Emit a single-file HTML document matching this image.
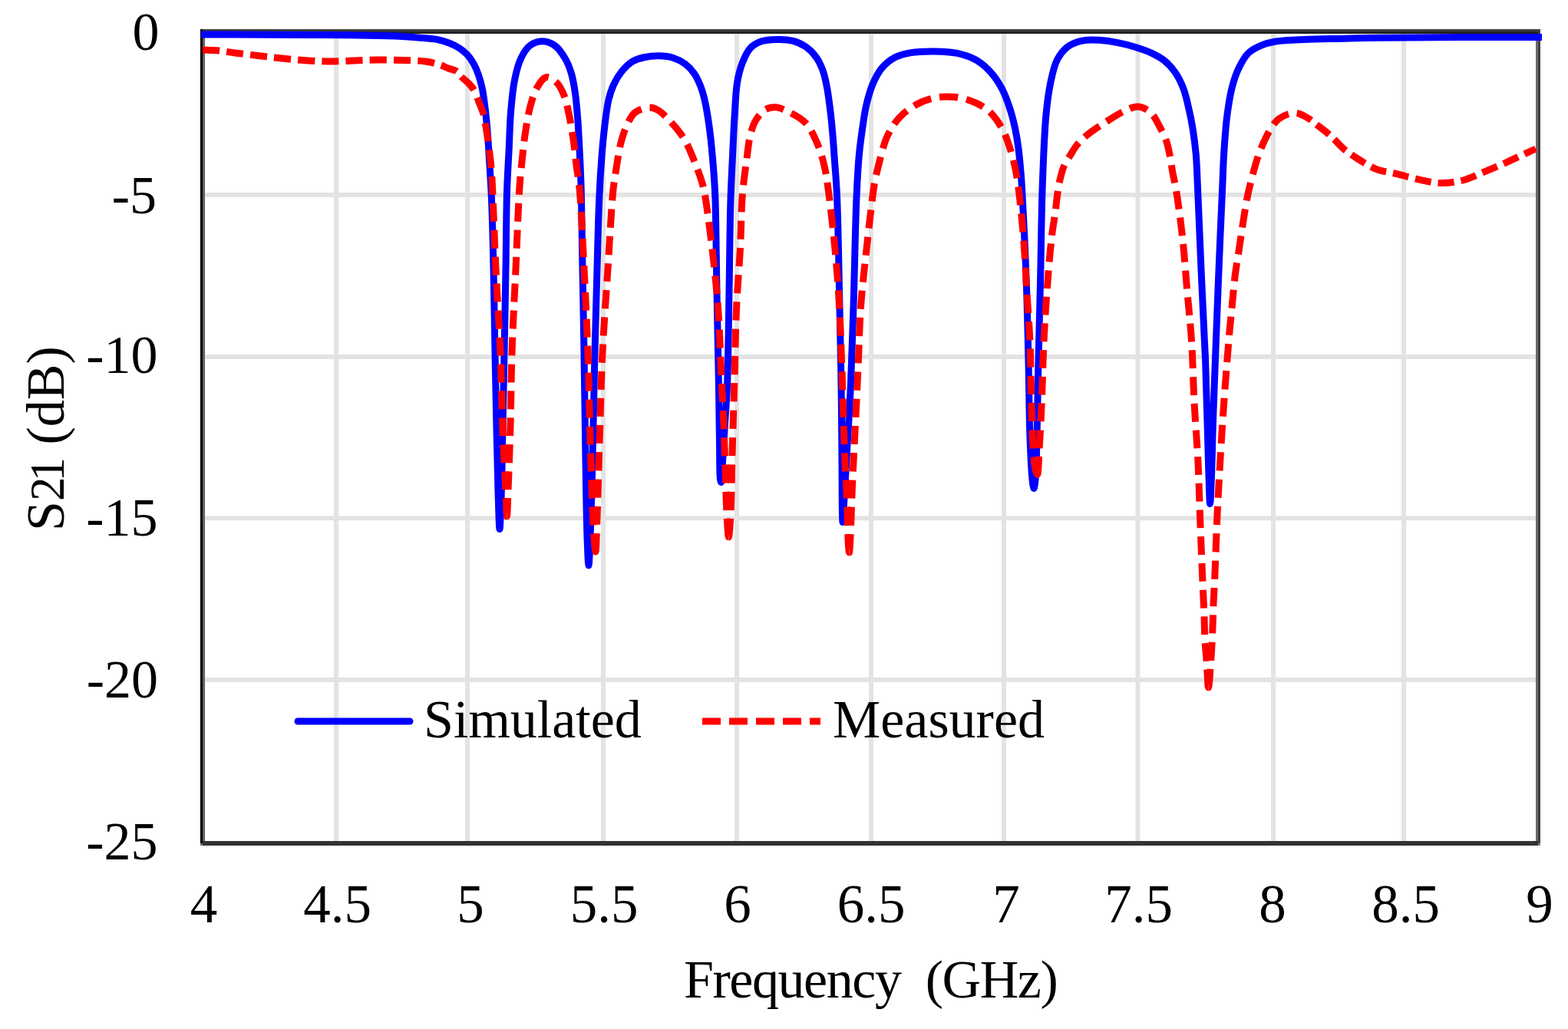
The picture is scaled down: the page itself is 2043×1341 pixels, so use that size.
<!DOCTYPE html>
<html><head><meta charset="utf-8"><title>S21</title>
<style>
html,body{margin:0;padding:0;background:#fff;}
body{width:2043px;height:1341px;overflow:hidden;}
svg{display:block;}
text{font-family:"Liberation Serif","Times New Roman",serif;fill:#000;}
</style></head><body>
<svg width="2043" height="1341" viewBox="0 0 2043 1341">
<rect x="0" y="0" width="2043" height="1341" fill="#fff"/>
<g stroke="#e3e3e3" stroke-width="6">
<line x1="438.0" y1="44" x2="438.0" y2="1096"/>
<line x1="609.0" y1="44" x2="609.0" y2="1096"/>
<line x1="786.0" y1="44" x2="786.0" y2="1096"/>
<line x1="960.0" y1="44" x2="960.0" y2="1096"/>
<line x1="1135.0" y1="44" x2="1135.0" y2="1096"/>
<line x1="1308.0" y1="44" x2="1308.0" y2="1096"/>
<line x1="1482.5" y1="44" x2="1482.5" y2="1096"/>
<line x1="1659.0" y1="44" x2="1659.0" y2="1096"/>
<line x1="1829.0" y1="44" x2="1829.0" y2="1096"/>
<line x1="267" y1="254.0" x2="2001" y2="254.0"/>
<line x1="267" y1="465.0" x2="2001" y2="465.0"/>
<line x1="267" y1="675.3" x2="2001" y2="675.3"/>
<line x1="267" y1="886.0" x2="2001" y2="886.0"/>
</g>
<g stroke-linecap="butt">
<rect x="261" y="38" width="1746" height="3" fill="#404040"/>
<rect x="261" y="41" width="1746" height="3" fill="#222"/>
<rect x="264" y="1096" width="1740" height="6" fill="#333"/>
<rect x="261" y="1099" width="3" height="3" fill="#777"/>
<rect x="2004" y="1099" width="3" height="3" fill="#888"/>
<rect x="261" y="38" width="3" height="1061" fill="#000"/>
<rect x="264" y="44" width="3" height="1052" fill="#606060"/>
<rect x="2001" y="44" width="3" height="1052" fill="#6a6a6a"/>
<rect x="2004" y="38" width="3" height="1061" fill="#404040"/>
</g>
<path d="M262.0 45.0C274.7 45.0 284.3 45.0 300.0 45.0C325.4 45.1 371.5 45.4 400.0 45.5C421.4 45.6 436.7 45.5 456.0 45.8C476.6 46.1 503.7 46.5 520.0 47.3C530.1 47.8 536.4 48.3 544.6 49.0C552.8 49.7 561.9 50.0 569.2 51.4C575.3 52.6 580.6 54.3 585.7 56.3C590.4 58.2 594.9 60.3 598.8 62.9C602.5 65.3 605.7 67.9 608.6 71.1C611.7 74.4 614.4 78.4 616.8 82.6C619.4 87.1 621.5 92.1 623.4 97.4C625.4 103.0 627.0 109.1 628.3 115.4C629.7 122.2 630.6 129.5 631.6 136.8C632.6 144.3 633.3 151.5 634.1 159.8C635.0 169.4 635.8 180.5 636.5 191.0C637.2 201.8 637.8 212.6 638.5 223.8C639.2 235.6 639.9 245.2 640.5 260.0C641.5 283.3 642.3 318.5 643.0 350.0C643.8 384.8 644.3 424.2 645.0 460.0C645.7 494.1 646.3 528.5 647.0 560.0C647.6 588.2 648.2 616.5 649.0 640.0C649.6 658.5 650.3 689.5 651.0 689.5C651.6 689.5 652.4 665.8 653.0 650.0C653.9 626.1 654.3 590.8 655.0 560.0C655.7 527.5 656.3 494.1 657.0 460.0C657.7 424.2 658.4 385.8 659.0 350.0C659.6 315.9 659.6 278.5 660.5 250.0C661.2 228.6 662.3 212.1 663.2 194.0C664.0 177.1 664.3 160.5 665.6 144.9C666.8 130.6 668.1 116.1 670.6 103.8C672.7 93.5 675.0 83.8 678.8 76.0C681.9 69.5 685.4 63.2 690.3 59.5C694.8 56.1 701.2 53.8 706.7 53.8C712.1 53.8 718.3 56.1 723.0 59.5C728.2 63.2 732.6 70.0 736.2 76.0C739.8 82.0 742.3 88.6 744.4 95.6C746.7 103.2 748.0 111.5 749.3 120.3C750.8 130.4 751.7 141.5 752.6 153.0C753.6 165.9 754.3 179.9 755.0 194.0C755.8 208.9 756.4 221.4 757.0 240.0C757.9 268.8 758.3 313.3 759.0 350.0C759.7 386.7 760.4 421.1 761.0 460.0C761.7 503.9 762.3 557.3 763.0 600.0C763.6 636.1 764.1 674.8 765.0 700.0C765.6 715.3 766.3 737.0 767.0 737.0C767.7 737.0 768.4 715.3 769.0 700.0C770.1 674.8 771.1 636.1 772.0 600.0C773.1 557.3 773.9 503.9 775.0 460.0C775.9 421.1 777.0 384.8 778.0 350.0C778.9 318.5 779.5 286.5 780.7 260.0C781.6 239.1 782.7 221.2 784.0 204.0C785.2 189.3 786.4 175.9 788.0 163.0C789.4 151.4 790.7 139.5 793.0 130.0C794.8 122.6 796.7 116.6 799.5 110.5C802.2 104.6 805.4 99.0 809.4 94.0C813.5 88.9 818.6 83.5 824.0 80.2C829.0 77.1 834.8 75.7 840.5 74.5C846.3 73.2 852.6 72.7 858.6 72.8C864.6 72.9 870.9 73.5 876.6 75.3C882.3 77.1 888.3 80.0 893.0 83.5C897.5 86.9 901.3 91.1 904.5 95.8C907.9 100.7 910.4 106.4 912.7 112.2C915.1 118.4 916.9 125.0 918.5 131.9C920.2 139.2 921.4 147.0 922.6 154.8C923.9 162.9 924.9 171.3 925.9 179.5C926.8 187.7 927.5 195.2 928.3 204.0C929.2 214.2 930.2 226.9 930.8 236.9C931.3 245.3 931.6 249.3 932.0 260.0C932.8 284.4 933.3 340.0 934.0 380.0C934.7 420.0 935.8 464.0 936.4 500.0C936.9 529.4 937.1 557.1 937.5 580.0C937.8 597.1 937.5 618.5 938.5 625.0C938.8 626.9 939.2 628.5 939.5 628.5C940.2 628.4 940.5 617.7 941.0 610.0C941.9 597.4 943.0 577.4 944.0 560.0C945.1 540.9 946.7 523.4 947.6 500.0C948.9 466.9 949.3 420.0 950.0 380.0C950.7 340.0 951.0 292.9 952.0 260.0C952.7 237.0 953.7 220.4 954.6 201.5C955.4 183.8 956.1 166.4 957.2 150.0C958.2 135.1 958.5 119.6 960.6 107.2C962.3 97.5 964.3 89.2 967.4 81.5C970.2 74.5 973.3 67.3 977.7 62.6C981.5 58.5 986.2 55.9 991.5 54.0C997.5 51.9 1005.2 51.5 1012.0 51.4C1018.9 51.3 1026.2 51.5 1032.6 53.2C1038.7 54.8 1044.7 57.4 1049.8 60.9C1055.0 64.5 1059.8 69.4 1063.5 74.6C1067.2 79.7 1069.7 85.6 1072.0 91.7C1074.4 98.1 1075.7 104.8 1077.2 112.3C1079.0 121.1 1080.2 131.4 1081.5 141.5C1082.9 152.5 1084.0 164.4 1085.0 175.8C1086.0 187.2 1086.6 197.8 1087.5 210.0C1088.5 224.0 1089.6 235.7 1090.5 255.0C1092.1 289.6 1093.0 356.1 1094.0 400.0C1094.8 436.4 1095.5 466.7 1096.0 500.0C1096.5 533.3 1096.7 569.6 1097.0 600.0C1097.2 625.4 1097.1 657.0 1097.5 670.0C1097.6 675.0 1097.8 680.5 1098.0 680.5C1098.4 680.5 1099.2 662.3 1100.0 650.0C1101.1 631.4 1102.6 604.1 1104.0 580.0C1105.5 554.2 1107.2 528.2 1108.5 500.0C1109.9 468.5 1110.9 436.3 1112.0 400.0C1113.4 356.6 1114.4 293.6 1116.0 257.0C1117.0 234.2 1117.9 217.8 1119.4 201.5C1120.6 188.7 1122.1 178.3 1123.7 167.2C1125.3 156.6 1126.5 146.2 1128.9 136.3C1131.2 126.8 1133.8 117.2 1137.4 108.9C1140.7 101.3 1144.4 94.1 1149.4 88.3C1154.2 82.7 1160.3 77.9 1166.6 74.6C1172.9 71.4 1179.7 69.9 1187.2 68.6C1196.0 67.1 1206.5 66.8 1216.3 66.9C1226.4 67.0 1237.5 67.3 1247.2 69.4C1256.3 71.4 1265.3 74.4 1272.9 78.9C1280.1 83.2 1286.4 89.0 1291.8 95.2C1297.2 101.3 1301.6 108.3 1305.5 115.7C1309.7 123.6 1312.9 132.8 1315.8 141.5C1318.6 150.0 1320.7 158.6 1322.6 167.2C1324.4 175.7 1325.7 183.7 1326.9 192.9C1328.3 203.5 1329.5 217.6 1330.3 227.2C1330.9 234.1 1331.0 236.5 1331.5 245.0C1332.7 266.6 1335.6 322.1 1337.0 360.0C1338.4 397.1 1339.2 434.2 1340.0 470.0C1340.8 504.1 1340.9 541.6 1342.0 570.0C1342.8 591.1 1343.7 613.5 1345.0 625.0C1345.6 630.3 1346.3 636.5 1347.0 636.5C1347.8 636.5 1348.9 627.0 1349.5 620.0C1350.6 607.9 1350.5 589.5 1351.0 570.0C1351.7 542.4 1352.2 504.1 1353.0 470.0C1353.8 434.2 1354.8 397.5 1355.7 360.0C1356.6 320.9 1356.9 277.1 1358.3 240.0C1359.5 207.8 1360.6 174.4 1362.9 150.0C1364.5 133.1 1366.2 120.0 1368.9 107.2C1371.2 96.4 1373.2 86.1 1377.4 78.0C1381.0 71.1 1385.6 65.1 1391.2 60.9C1396.6 56.9 1403.3 54.6 1410.0 53.1C1417.0 51.6 1424.7 51.9 1432.3 52.3C1440.2 52.7 1448.3 54.1 1456.3 55.7C1464.3 57.3 1472.7 59.3 1480.3 61.7C1487.5 63.9 1494.5 66.3 1500.9 69.4C1507.0 72.4 1512.9 75.5 1518.0 79.7C1523.2 84.0 1527.9 89.4 1531.8 95.2C1535.9 101.3 1539.2 108.3 1542.0 115.7C1545.0 123.7 1546.9 132.9 1548.9 141.5C1550.9 150.0 1552.5 158.0 1554.0 167.2C1555.7 177.8 1557.3 189.7 1558.3 201.5C1559.4 213.9 1559.5 223.6 1560.3 240.0C1561.7 268.9 1563.6 320.9 1565.4 360.0C1567.1 397.5 1569.3 436.2 1570.6 470.0C1571.7 498.8 1572.2 524.2 1573.0 550.0C1573.7 574.1 1574.3 600.4 1575.0 620.0C1575.5 634.1 1576.0 656.5 1576.6 656.5C1577.2 656.5 1577.9 634.1 1578.5 620.0C1579.3 600.4 1579.7 574.1 1580.5 550.0C1581.3 524.2 1582.3 498.8 1583.4 470.0C1584.7 436.2 1586.2 397.5 1587.7 360.0C1589.3 320.9 1591.6 268.9 1592.9 240.0C1593.6 223.6 1593.7 215.3 1594.6 201.5C1595.6 185.6 1596.8 165.8 1598.9 150.0C1600.7 136.4 1602.7 123.3 1605.7 112.3C1608.1 103.3 1610.7 95.6 1614.3 88.3C1617.7 81.4 1621.3 74.3 1626.3 69.4C1631.1 64.7 1637.4 61.7 1643.4 59.1C1649.4 56.6 1654.9 55.2 1662.3 54.0C1672.6 52.3 1686.4 52.0 1700.0 51.4C1715.8 50.7 1734.6 50.6 1751.5 50.2C1767.9 49.8 1780.9 49.5 1800.0 49.2C1827.4 48.8 1865.9 48.7 1900.0 48.6C1935.6 48.5 1972.7 48.5 2009.0 48.4" fill="none" stroke="#0000ff" stroke-width="9" stroke-linejoin="round" stroke-linecap="butt"/>
<g fill="none" stroke="#ff0000" stroke-width="9" stroke-linejoin="round">
<path d="M264.0 65.0C271.0 65.3 278.0 65.3 285.0 66.0C292.0 66.7 298.3 68.0 306.0 69.0C315.5 70.2 327.6 71.5 338.0 72.7C347.9 73.8 356.9 75.0 367.0 76.0C377.9 77.1 389.9 78.3 401.0 79.0C411.6 79.6 421.8 80.0 432.0 80.0C441.8 80.0 451.2 79.3 461.0 79.0C471.2 78.7 481.6 78.1 492.0 78.0C502.6 77.9 513.5 78.2 524.0 78.5C534.2 78.8 545.3 78.8 554.0 80.0C560.8 80.9 566.7 82.3 572.0 84.0C576.5 85.4 580.1 87.5 584.0 89.0C587.7 90.5 592.1 91.0 595.0 93.0C597.6 94.8 598.7 97.7 601.0 100.0" stroke-dasharray="22.15 9.06"/>
<path d="M601.0 100.0C603.6 102.7 607.2 105.1 610.0 108.0C612.9 111.0 615.8 114.1 618.0 118.0C620.5 122.3 622.0 127.9 624.0 133.0C626.0 138.2 628.5 143.6 630.0 149.0C631.5 154.3 632.0 159.4 633.0 165.0C634.0 171.1 635.1 177.9 636.0 184.0C636.8 189.6 637.4 194.5 638.0 200.0C638.7 205.8 639.4 211.5 640.0 218.0C640.7 225.6 640.9 231.8 641.5 243.0C642.7 266.2 644.3 314.1 646.0 350.0C647.8 386.4 650.5 424.2 652.0 460.0C653.4 494.1 653.7 528.5 655.0 560.0C656.1 588.2 658.0 619.1 659.0 640.0C659.6 653.4 660.0 673.0 660.5 673.0" stroke-dasharray="23.98 10.99"/>
<path d="M660.5 673.0C661.0 673.0 661.5 653.6 662.0 640.0C662.9 618.1 664.2 583.3 665.0 554.0C665.9 523.4 665.9 492.6 667.0 460.0C668.2 424.8 670.3 386.4 672.0 350.0C673.7 314.1 675.2 269.2 677.0 243.0C678.1 227.8 679.1 218.8 680.4 207.0C681.6 195.4 682.7 184.2 684.5 172.8C686.3 161.3 688.1 148.7 691.0 138.3C693.5 129.3 696.0 120.3 700.0 113.7C703.2 108.3 707.3 101.5 711.6 100.6C715.6 99.8 721.0 103.6 724.7 107.0C728.9 110.9 732.0 117.2 734.6 123.5C737.6 130.7 739.2 139.2 741.1 148.0C743.3 158.1 745.3 169.9 746.9 181.0C748.6 192.3 749.6 204.4 751.0 215.4C752.3 225.6 753.8 232.1 755.0 245.0C757.3 269.2 759.2 314.6 761.0 350.0C762.9 386.2 764.6 420.7 766.0 460.0C767.6 505.2 768.5 562.7 770.0 606.0C771.2 640.8 772.6 680.6 774.0 700.0C774.6 708.8 775.4 719.0 776.0 719.0" stroke-dasharray="23.97 10.99"/>
<path d="M776.0 719.0C776.9 719.0 777.3 692.4 778.0 674.0C779.1 645.0 780.3 598.5 781.5 562.0C782.6 527.2 783.3 494.6 785.0 460.0C786.8 424.0 789.6 386.0 792.0 350.0C794.3 315.4 796.5 271.2 798.9 248.0C800.2 235.9 801.2 230.3 802.8 220.5C804.6 209.3 806.6 195.0 809.4 184.4C811.7 175.8 814.3 168.1 817.6 161.4C820.4 155.7 822.9 150.1 827.4 146.6C832.1 142.9 840.1 140.3 845.5 140.1C849.7 140.0 853.2 141.3 857.0 143.4C861.9 146.1 866.7 151.2 871.7 156.5C878.1 163.2 885.8 171.9 891.4 181.1C897.4 190.9 902.2 203.9 906.2 213.9C909.5 222.2 912.4 230.3 914.4 236.9C915.9 241.8 916.5 243.8 917.7 250.0C920.6 264.7 925.0 300.1 928.0 325.0C930.9 349.7 933.5 372.9 935.4 399.0C937.6 428.2 938.6 464.0 940.0 492.0C941.1 515.0 942.2 534.6 943.0 555.0C943.8 574.2 944.3 592.1 945.0 611.0C945.7 630.4 946.1 653.6 947.0 670.0C947.7 681.7 948.6 700.0 949.4 700.0" stroke-dasharray="24.16 11.07"/>
<path d="M949.4 700.0C950.2 700.0 951.3 682.4 952.0 670.0C953.1 650.1 953.2 619.6 954.0 592.0C954.9 560.7 956.0 524.7 957.0 492.0C957.9 460.4 958.3 428.2 959.7 399.0C960.9 372.9 963.1 349.5 964.4 325.0C965.7 300.8 965.7 273.9 967.4 253.0C968.7 236.8 970.8 223.5 972.6 210.0C974.2 197.9 975.2 185.4 977.7 175.8C979.6 168.5 981.3 162.5 984.6 157.0C987.7 151.7 992.0 146.0 996.6 143.2C1000.7 140.7 1005.6 139.6 1010.3 139.8C1015.3 140.0 1020.2 142.3 1025.8 145.0C1033.1 148.5 1043.3 153.5 1049.8 160.4C1056.6 167.6 1061.1 178.2 1065.2 187.8C1069.4 197.6 1072.2 208.2 1074.6 218.7C1077.0 229.3 1077.9 238.0 1079.7 251.0C1082.3 270.6 1085.7 300.3 1088.0 325.0C1090.3 349.6 1092.1 372.9 1093.6 399.0C1095.3 428.2 1096.1 460.1 1097.3 492.0C1098.5 525.7 1099.5 566.4 1100.7 596.0C1101.6 618.1 1102.8 634.7 1103.6 654.0C1104.4 673.3 1104.7 701.5 1105.5 712.0C1105.8 715.9 1106.2 720.0 1106.5 720.0" stroke-dasharray="24.23 11.10"/>
<path d="M1106.5 720.0C1107.0 720.0 1107.5 708.6 1108.0 700.0C1108.9 684.5 1109.4 657.7 1110.4 635.0C1111.5 610.2 1113.0 582.9 1114.3 557.0C1115.6 531.3 1116.8 506.0 1118.0 480.0C1119.2 453.3 1119.7 425.4 1121.6 399.0C1123.4 373.8 1126.3 349.6 1129.0 325.0C1131.6 300.6 1135.4 267.6 1137.5 252.0C1138.5 244.6 1138.8 241.8 1140.0 235.8C1141.5 228.2 1143.7 218.8 1146.0 210.0C1148.5 200.6 1151.1 189.4 1154.6 180.9C1157.6 173.7 1161.0 167.6 1164.9 162.0C1168.5 156.8 1172.3 152.5 1176.9 148.3C1181.9 143.8 1188.0 139.6 1194.0 136.3C1200.0 133.0 1206.4 130.3 1212.9 128.6C1219.3 126.9 1225.5 126.0 1232.6 126.0C1240.8 126.0 1250.5 126.8 1259.2 129.5C1268.5 132.4 1278.9 136.9 1286.6 143.2C1294.3 149.5 1300.6 158.7 1305.5 167.2C1310.2 175.3 1312.9 184.2 1315.8 192.9C1318.6 201.4 1320.8 210.2 1322.6 218.6C1324.3 226.5 1325.3 232.2 1326.6 242.0C1328.8 258.5 1331.6 286.2 1333.4 308.6C1335.3 331.2 1336.3 354.2 1337.7 377.0C1339.1 399.9 1341.0 422.7 1342.0 446.0C1343.0 469.9 1343.0 494.8 1343.7 518.6C1344.4 541.7 1345.0 569.8 1346.3 587.0C1347.1 597.4 1347.7 606.4 1349.0 612.0C1349.7 614.9 1350.8 618.6 1351.5 618.5" stroke-dasharray="24.19 11.09"/>
<path d="M1351.5 618.5C1353.0 618.3 1353.2 599.5 1354.0 587.0C1355.2 568.6 1356.5 541.7 1357.5 518.6C1358.5 494.8 1358.8 469.9 1360.0 446.0C1361.1 422.7 1362.6 399.9 1364.3 377.0C1366.0 354.1 1368.1 327.5 1370.3 308.6C1371.9 295.1 1374.1 283.8 1375.4 274.0C1376.3 266.7 1376.6 261.4 1377.5 255.0C1378.4 248.4 1379.4 241.4 1380.9 234.8C1382.4 228.4 1384.1 221.6 1386.5 216.0C1388.7 211.0 1391.6 207.0 1394.4 202.5C1397.3 197.8 1400.0 192.8 1403.5 188.5C1407.0 184.2 1410.4 181.0 1415.3 176.9C1422.1 171.2 1432.8 164.1 1441.4 158.6C1449.5 153.4 1457.8 147.9 1465.4 144.5C1471.6 141.8 1477.3 138.6 1483.0 139.0C1488.6 139.4 1494.7 142.6 1499.2 146.6C1504.3 151.1 1507.7 159.1 1511.2 165.5C1514.5 171.7 1517.6 178.1 1519.8 184.3C1521.8 190.1 1522.7 195.2 1524.0 201.5C1525.6 209.2 1526.8 219.4 1528.3 227.2C1529.5 233.7 1530.7 237.2 1532.0 245.0C1534.5 259.6 1538.2 287.0 1540.6 308.6C1543.1 331.0 1544.6 354.2 1546.6 377.0C1548.6 399.9 1551.1 422.0 1552.6 445.7C1554.3 471.1 1554.6 498.7 1556.0 524.6C1557.4 549.8 1559.5 574.1 1560.8 599.0C1562.1 623.9 1562.6 648.8 1563.6 674.0C1564.6 699.6 1565.7 728.8 1566.7 751.6C1567.5 769.6 1568.3 785.3 1568.9 800.0C1569.4 812.3 1569.3 823.4 1569.9 834.0C1570.4 843.3 1571.5 852.2 1572.0 860.0C1572.4 866.3 1572.6 871.2 1573.0 877.0C1573.4 883.2 1573.9 896.0 1574.5 896.0" stroke-dasharray="23.81 10.91"/>
<path d="M1574.5 896.0C1574.8 896.0 1575.2 892.6 1575.5 890.0C1576.1 885.3 1576.5 876.7 1577.0 870.0C1577.5 863.3 1578.0 857.5 1578.5 850.0C1579.1 840.4 1579.6 827.7 1580.0 817.0C1580.4 806.8 1580.6 797.4 1581.0 787.0C1581.5 775.7 1582.2 765.4 1582.8 751.6C1583.7 732.3 1584.5 704.7 1585.5 682.0C1586.5 660.2 1587.5 640.2 1588.8 618.0C1590.2 594.0 1591.7 567.9 1593.4 543.0C1595.1 518.2 1597.3 489.7 1599.0 468.7C1600.2 453.3 1601.1 441.4 1602.3 428.6C1603.4 416.7 1604.6 405.7 1605.7 394.3C1606.8 382.9 1607.7 371.4 1609.1 360.0C1610.5 348.5 1612.6 337.1 1614.3 325.7C1616.0 314.3 1617.6 302.6 1619.4 291.4C1621.1 280.6 1622.9 268.5 1624.6 259.8C1625.8 253.7 1626.7 249.8 1628.0 244.3C1629.5 237.9 1631.3 230.8 1633.2 223.8C1635.2 216.5 1637.4 208.7 1640.0 201.5C1642.5 194.4 1645.5 187.2 1648.6 180.9C1651.3 175.3 1654.1 170.0 1657.2 165.5C1659.9 161.6 1662.2 158.0 1665.7 155.2C1669.5 152.2 1675.1 149.5 1679.5 148.3C1683.1 147.3 1686.1 146.9 1689.7 147.5" stroke-dasharray="24.26 11.12"/>
<path d="M1689.7 147.5C1694.0 148.2 1699.1 150.9 1703.5 153.5C1708.2 156.2 1712.4 160.0 1717.2 163.7C1722.6 167.9 1728.7 172.5 1734.3 177.5C1740.2 182.8 1745.6 189.6 1751.5 194.6C1757.0 199.2 1762.8 202.9 1768.6 206.6C1774.3 210.3 1780.7 214.3 1785.8 216.9C1789.6 218.9 1791.8 220.1 1796.0 221.5C1802.0 223.5 1811.0 224.5 1819.0 226.4C1827.9 228.5 1837.5 231.6 1847.0 233.6C1856.5 235.6 1866.2 238.2 1876.0 238.5C1885.9 238.8 1896.3 237.4 1906.0 235.0C1915.7 232.6 1924.7 227.7 1934.0 223.9C1943.4 220.1 1952.9 216.1 1962.0 212.0C1970.9 208.0 1980.8 203.1 1988.0 199.8C1993.1 197.5 1996.7 195.9 2001.0 194.0" stroke-dasharray="21 9"/>
</g>
<g font-size="70" text-anchor="middle">
<text x="265.5" y="1201.5" font-size="71">4</text>
<text x="439.5" y="1201.5" font-size="71">4.5</text>
<text x="613.0" y="1201.5" font-size="71">5</text>
<text x="787.0" y="1201.5" font-size="71">5.5</text>
<text x="961.0" y="1201.5" font-size="71">6</text>
<text x="1135.0" y="1201.5" font-size="71">6.5</text>
<text x="1311.0" y="1201.5" font-size="71">7</text>
<text x="1483.5" y="1201.5" font-size="71">7.5</text>
<text x="1658.0" y="1201.5" font-size="71">8</text>
<text x="1831.5" y="1201.5" font-size="71">8.5</text>
<text x="2006.0" y="1201.5" font-size="71">9</text>
</g>
<g font-size="70" text-anchor="end">
<text x="207.5" y="65.0">0</text>
<text x="204.0" y="277.5">-5</text>
<text x="205.5" y="486.0">-10</text>
<text x="205.5" y="697.5">-15</text>
<text x="206.0" y="909.0">-20</text>
<text x="205.5" y="1119.5">-25</text>
</g>
<line x1="388" y1="940" x2="534" y2="940" stroke="#0000ff" stroke-width="9" stroke-linecap="round"/>
<line x1="915" y1="940" x2="1069" y2="940" stroke="#ff0000" stroke-width="9" stroke-dasharray="24 11"/>
<text x="552" y="960.5" font-size="70">Simulated</text>
<text x="1085" y="960.5" font-size="70">Measured</text>
<text x="891" y="1300" font-size="70" textLength="487.7" lengthAdjust="spacing" xml:space="preserve">Frequency  (GHz)</text>
<text transform="translate(82.5,692) rotate(-90)" font-size="70"><tspan x="0">S</tspan><tspan x="39" font-size="63">2</tspan><tspan x="64.5" font-size="63">1</tspan><tspan x="112.5">(dB)</tspan></text>
</svg>
</body></html>
